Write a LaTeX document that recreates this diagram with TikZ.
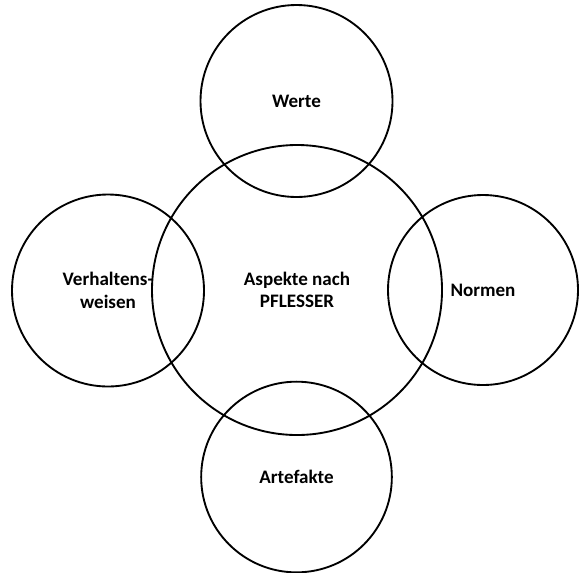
\documentclass[tikz,border=0pt]{standalone}
\usepackage{fontspec}
\setmainfont{Carlito}
\usepackage{tikz}
\usetikzlibrary{positioning}

\tikzset{
  aspekt/.style={circle, draw, line width=1.4pt, inner sep=0pt, align=center,
    minimum size=144pt, font=\fontsize{14.3}{17}\selectfont\bfseries},
  kern/.style={aspekt, minimum size=217.5pt}
}

\begin{document}
\begin{tikzpicture}[x=0.75pt, y=-0.75pt]
          \useasboundingbox (0,0) rectangle (580,572);
          % central aspect
          \node[kern] (pflesser) at (297,290) {Aspekte nach\\PFLESSER};
          % surrounding aspects
          \node[aspekt] (werte) at (296.5,101) {Werte};
          \node[aspekt] (verhalten) at (108,290.5) {Verhaltens-\\weisen};
          \node[aspekt, minimum size=142.5pt] (normen) at (483,290) {Normen};
          \node[aspekt, minimum size=143pt] (artefakte) at (296.5,477) {Artefakte};
        \end{tikzpicture}
\end{document}
